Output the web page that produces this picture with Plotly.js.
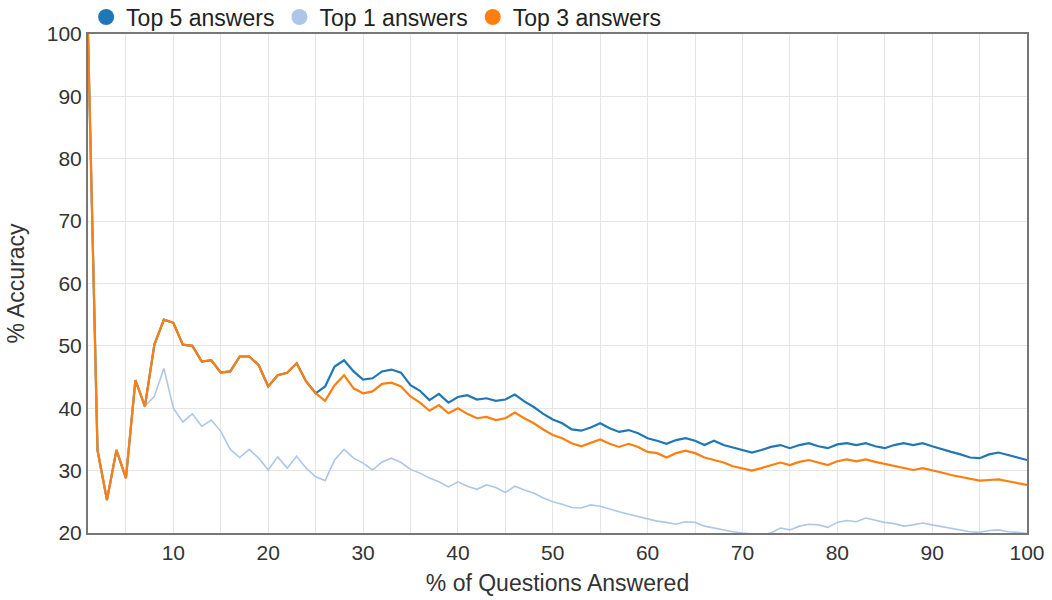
<!DOCTYPE html>
<html>
<head>
<meta charset="utf-8">
<script src="https://cdn.plot.ly/plotly-3.0.1.min.js"></script>
<style>html,body{margin:0;padding:0;background:#fff;}#chart{width:1052px;height:600px;}</style>
</head>
<body>
<div id="chart"></div>
<script>
const xValues = Array.from({length: 100}, (_, i) => i + 1);

const top5 = [100,33.3,25.3,33.3,28.8,44.5,40.3,50.2,54.2,53.7,
  50.2,50.0,47.5,47.7,45.7,45.9,48.3,48.3,46.9,43.5,
  45.3,45.7,47.2,44.3,42.4,43.5,46.7,47.7,45.9,44.6,
  44.8,45.9,46.2,45.7,43.7,42.8,41.3,42.3,40.9,41.8,
  42.1,41.4,41.6,41.2,41.4,42.2,41.1,40.2,39.1,38.2,
  37.6,36.6,36.4,36.9,37.6,36.8,36.2,36.5,36.0,35.2,
  34.8,34.3,34.9,35.2,34.8,34.1,34.8,34.1,33.7,33.3,
  32.9,33.3,33.8,34.1,33.6,34.1,34.4,33.9,33.6,34.2,
  34.4,34.1,34.4,33.9,33.6,34.1,34.4,34.1,34.4,33.9,
  33.4,33.0,32.6,32.1,32.0,32.6,32.9,32.5,32.1,31.7];

const top1 = [100,33.3,25.3,33.3,28.8,44.5,40.3,41.9,46.4,40.0,
  37.8,39.1,37.1,38.1,36.3,33.4,32.1,33.4,32.0,30.1,
  32.2,30.4,32.3,30.4,29.0,28.4,31.7,33.4,32.0,31.2,
  30.1,31.4,32.0,31.3,30.2,29.6,28.8,28.2,27.4,28.2,
  27.5,27.0,27.7,27.3,26.5,27.5,26.9,26.4,25.6,25.0,
  24.6,24.1,24.0,24.5,24.3,23.8,23.4,23.0,22.6,22.2,
  21.9,21.7,21.4,21.8,21.7,21.1,20.8,20.4,20.2,20.0,
  19.8,19.7,20.0,20.8,20.5,21.1,21.4,21.3,20.9,21.7,
  22.0,21.8,22.4,22.0,21.7,21.5,21.1,21.3,21.6,21.3,
  21.0,20.8,20.5,20.2,20.1,20.4,20.5,20.2,20.1,19.9];

const top3 = [100,33.3,25.3,33.3,28.8,44.5,40.3,50.2,54.2,53.7,
  50.2,50.0,47.5,47.7,45.7,45.9,48.3,48.3,46.9,43.5,
  45.3,45.7,47.2,44.3,42.4,41.2,43.7,45.3,43.2,42.4,
  42.7,43.9,44.1,43.5,41.9,40.9,39.6,40.5,39.2,40.0,
  39.1,38.4,38.6,38.1,38.4,39.3,38.4,37.6,36.6,35.7,
  35.2,34.4,33.9,34.4,35.0,34.3,33.8,34.3,33.8,33.0,
  32.8,32.1,32.8,33.2,32.8,32.1,31.7,31.3,30.7,30.4,
  30.0,30.4,30.9,31.3,30.9,31.4,31.7,31.3,30.9,31.5,
  31.8,31.5,31.8,31.4,31.1,30.7,30.4,30.1,30.4,30.1,
  29.7,29.3,29.0,28.6,28.4,28.5,28.6,28.3,28.0,27.7];

const seriesNames = ["Top 5 answers", "Top 1 answers", "Top 3 answers"];
const seriesColors = ["#1f77b4", "#aec7e8", "#ff7f0e"];
const seriesData = [top5, top1, top3];
const lineWidths = [2.2, 1.6, 2.2];

const traces = [];
seriesData.forEach((ys, i) => {
  traces.push({
    x: xValues, y: ys, type: "scatter", mode: "lines",
    line: {color: seriesColors[i], width: lineWidths[i]},
    showlegend: false, hoverinfo: "skip"
  });
});
seriesNames.forEach((name, i) => {
  traces.push({
    x: [null], y: [null], type: "scatter", mode: "markers", name: name,
    marker: {color: seriesColors[i], size: 17, symbol: "circle"},
    showlegend: true
  });
});

const font = "Liberation Sans, Arial, sans-serif";
const layout = {
  width: 1052, height: 600,
  margin: {l: 88, r: 25, t: 34, b: 67, autoexpand: false},
  paper_bgcolor: "#fff", plot_bgcolor: "#fff",
  font: {family: font, size: 21, color: "#333"},
  showlegend: true,
  legend: {
    orientation: "h", x: -0.002, xanchor: "left", y: 1.034, yanchor: "middle",
    font: {family: font, size: 23, color: "#222"},
    itemwidth: 30, tracegroupgap: 0, bgcolor: "rgba(0,0,0,0)"
  },
  xaxis: {
    range: [1, 100], tick0: 0, dtick: 10, showgrid: true, gridcolor: "#e6e6e6", gridwidth: 1,
    minor: {dtick: 5, tick0: 0, showgrid: true, gridcolor: "#e6e6e6", gridwidth: 1},
    zeroline: false, showline: true, linecolor: "#777", linewidth: 2, mirror: true,
    ticks: "", tickfont: {size: 21, color: "#333"}, automargin: false,
    title: {text: "% of Questions Answered", font: {size: 23, color: "#333"}, standoff: 12}
  },
  yaxis: {
    range: [20, 100], dtick: 10, showgrid: true, gridcolor: "#e6e6e6", gridwidth: 1,
    zeroline: false, showline: true, linecolor: "#777", linewidth: 2, mirror: true,
    ticks: "", tickfont: {size: 21, color: "#333"}, automargin: false,
    title: {text: "% Accuracy", font: {size: 23, color: "#333"}, standoff: 16}
  }
};

Plotly.newPlot("chart", traces, layout, {displayModeBar: false, staticPlot: true});
</script>
</body>
</html>
